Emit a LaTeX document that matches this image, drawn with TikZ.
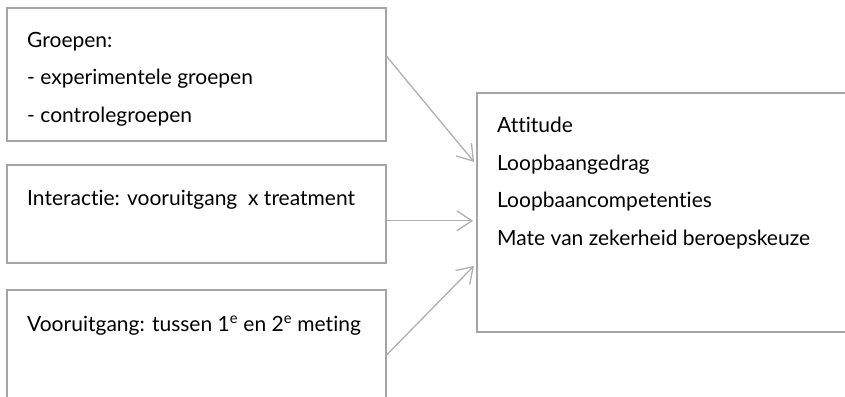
\documentclass[tikz,border=0pt]{standalone}
\usepackage{fontspec}
\setmainfont[Ligatures=NoCommon]{Lato}
\usetikzlibrary{arrows.meta, positioning}
\definecolor{boxgray}{RGB}{165,165,165}
\definecolor{arrowgray}{RGB}{175,175,175}
\tikzset{
    boxnode/.style = {draw=boxgray, line width=1.6pt, rectangle, fill=none, anchor=north west, inner sep=0pt},
    textnode/.style = {draw=none, fill=none, rectangle, inner sep=0pt, anchor=base west, align=left,
      font=\fontsize{21}{37.5}\selectfont},
    connect/.style = {arrowgray, line width=1.3pt, -{Straight Barb[length=15pt,width=20pt]}, shorten >=3pt},
}

\begin{document}
\begin{tikzpicture}[x=1pt, y=-1pt]
    \clip (0,0) rectangle (845,396);

    % left boxes
    \node [name=groepen, boxnode, minimum width=379pt, minimum height=133pt] at (6,7) {};
    \node [name=interactie, boxnode, minimum width=379pt, minimum height=98pt] at (6,164) {};
    \node [name=vooruitgang, boxnode, minimum width=379pt, minimum height=160pt] at (6,289) {};

    % outcome box
    \node [name=uitkomst, boxnode, minimum width=400pt, minimum height=239pt] at (476,92) {};

    % texts, placed at the baseline of their last line
    \node [name=groepentxt, textnode] at (27,122) {Groepen:\\- experimentele groepen\\- controlegroepen};
    \node [name=interactietxt, textnode] at (27,205) {Interactie: vooruitgang\ \ x treatment};
    \node [name=vooruitgangtxt, textnode] at (27,331)
        {Vooruitgang: tussen 1\textsuperscript{e} en 2\textsuperscript{e} meting};
    \node [name=uitkomsttxt, textnode] at (497,245)
        {Attitude\\Loopbaangedrag\\Loopbaancompetenties\\Mate van zekerheid beroepskeuze};

    \draw [connect] ([yshift=18pt]groepen.east) -- ([yshift=48pt]uitkomst.west);
    \draw [connect] ([yshift=-7pt]interactie.east) -- ([yshift=-8.5pt]uitkomst.west);
    \draw [connect] ([yshift=-66pt]vooruitgang.north east) -- ([yshift=-51.5pt]uitkomst.west);
\end{tikzpicture}
\end{document}
